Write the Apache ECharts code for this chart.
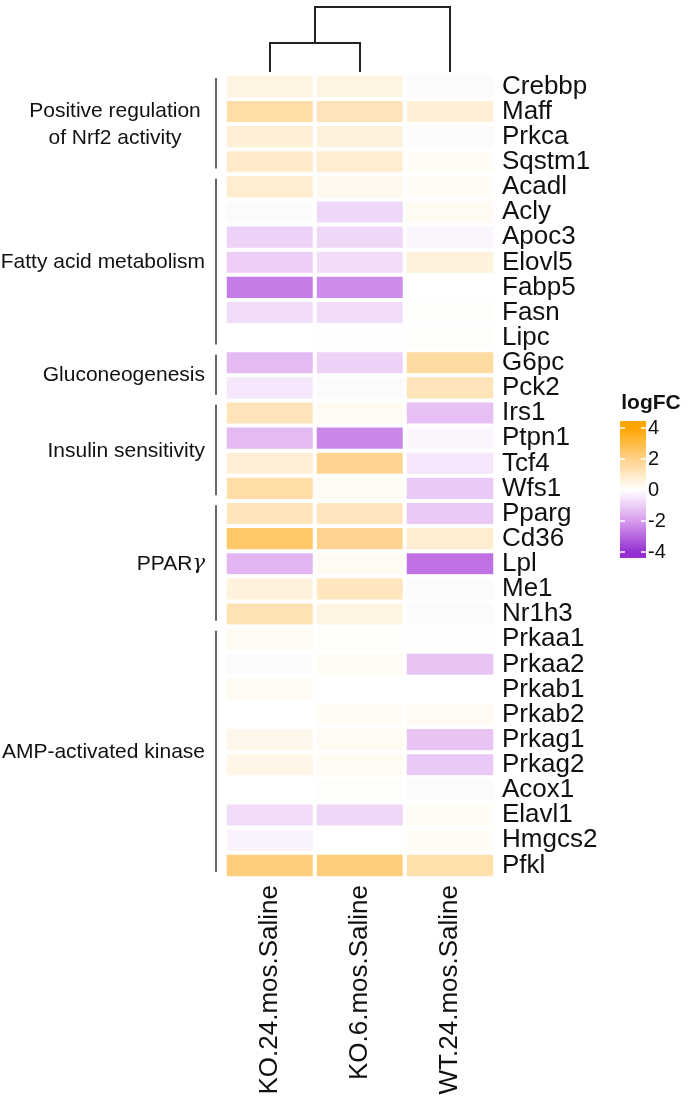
<!DOCTYPE html>
<html>
<head>
<meta charset="utf-8">
<script src="https://cdn.jsdelivr.net/npm/echarts@6/dist/echarts.min.js"></script>
<style>
  html, body { margin: 0; padding: 0; background: #fff; }
  #main { width: 688px; height: 1107px; }
</style>
</head>
<body>
<div id="main"></div>
<script>
// samples (columns) and genes (rows)
var samples = ['KO.24.mos.Saline', 'KO.6.mos.Saline', 'WT.24.mos.Saline'];
var genes = ['Crebbp', 'Maff', 'Prkca', 'Sqstm1', 'Acadl', 'Acly', 'Apoc3', 'Elovl5', 'Fabp5', 'Fasn', 'Lipc',
  'G6pc', 'Pck2', 'Irs1', 'Ptpn1', 'Tcf4', 'Wfs1', 'Pparg', 'Cd36', 'Lpl', 'Me1', 'Nr1h3',
  'Prkaa1', 'Prkaa2', 'Prkab1', 'Prkab2', 'Prkag1', 'Prkag2', 'Acox1', 'Elavl1', 'Hmgcs2', 'Pfkl'];

// logFC per sample, same order as genes
var ko24 = [0.5, 1.5, 0.7, 0.9, 0.8, -0.1, -0.9, -1.0, -2.6, -0.7, 0, -1.4, -0.5, 1.2, -1.4, 0.7, 1.5,
  1.2, 2.5, -1.5, 0.6, 1.3, 0.2, -0.1, 0.2, 0, 0.35, 0.4, 0, -0.7, -0.25, 2.2];
var ko6 = [0.5, 1.2, 0.6, 0.8, 0.3, -0.8, -0.8, -0.7, -2.3, -0.7, 0.05, -0.9, -0.1, 0.2, -2.4, 1.9, 0.2,
  1.1, 1.9, 0.2, 1.1, 0.5, 0.1, 0.15, 0, 0.15, 0.2, 0.2, 0.1, -0.8, 0, 2.2];
var wt24 = [-0.1, 0.7, -0.1, 0.15, 0.15, 0.2, -0.2, 0.6, 0, 0.1, 0.1, 1.6, 1.2, -1.3, -0.2, -0.5, -1.1,
  -1.1, 0.8, -2.8, -0.1, -0.1, -0.05, -1.2, 0, 0.2, -1.2, -1.1, -0.1, 0.15, 0.15, 1.4];

// gene groups: label, first row, last row
var groupNames = ['Positive regulation\nof Nrf2 activity', 'Fatty acid metabolism', 'Gluconeogenesis',
  'Insulin sensitivity', 'PPAR', 'AMP-activated kinase'];
var groupStart = [0, 4, 11, 13, 17, 22];
var groupEnd = [3, 10, 12, 16, 21, 31];

// column dendrogram: merges of leaves/nodes with heights
var mergeLeft = [0, 'n0'];
var mergeRight = [1, 2];
var mergeHeight = [1.0, 2.24];

// legend
var legendTicks = [4, 2, 0, -2, -4];

// colour ramp at -4, -2, 0, 2, 4
var rampColors = ['#9430d2', '#d89cee', '#ffffff', '#ffd28a', '#ffa500'];
var FONT = 'Liberation Sans, Arial, Helvetica, sans-serif';

var chart = echarts.init(document.getElementById('main'));

var cols = [ko24, ko6, wt24];
var heatData = [];
cols.forEach(function (arr, ci) {
  arr.forEach(function (v, ri) { heatData.push([ci, ri, v]); });
});

// dendrogram segments from merges
var nodeX = {}, nodeH = {};
samples.forEach(function (s, i) { nodeX[i] = i + 0.5; nodeH[i] = 0; });
var dendroLines = [];
mergeHeight.forEach(function (h, k) {
  var a = mergeLeft[k], b = mergeRight[k];
  dendroLines.push({ coords: [[nodeX[a], nodeH[a]], [nodeX[a], h], [nodeX[b], h], [nodeX[b], nodeH[b]]] });
  nodeX['n' + k] = (nodeX[a] + nodeX[b]) / 2;
  nodeH['n' + k] = h;
});

var option = {
  animation: false,
  textStyle: { fontFamily: FONT },
  grid: [
    { left: 225, width: 270, top: 74, height: 804 },
    { left: 225, width: 270, top: 7, height: 65 }
  ],
  xAxis: [{
    type: 'category',
    data: samples,
    gridIndex: 0,
    position: 'bottom',
    axisLine: { show: false },
    axisTick: { show: false },
    splitLine: { show: false },
    axisLabel: { interval: 0, rotate: 90, fontSize: 26, color: '#111', margin: 7, fontFamily: FONT }
  }, {
    type: 'value', gridIndex: 1, min: 0, max: 3, show: false
  }],
  yAxis: [{
    type: 'category',
    data: genes,
    gridIndex: 0,
    inverse: true,
    position: 'right',
    axisLine: { show: false },
    axisTick: { show: false },
    splitLine: { show: false },
    axisLabel: { interval: 0, fontSize: 26, color: '#111', margin: 7, fontFamily: FONT }
  }, {
    type: 'value', gridIndex: 1, min: 0, max: mergeHeight[mergeHeight.length - 1], show: false
  }],
  visualMap: {
    show: false,
    type: 'continuous',
    min: -4,
    max: 4,
    seriesIndex: 0,
    dimension: 2,
    inRange: { color: rampColors }
  },
  series: [{
    type: 'heatmap',
    xAxisIndex: 0,
    yAxisIndex: 0,
    data: heatData,
    itemStyle: { borderColor: '#ffffff', borderWidth: 4 },
    emphasis: { disabled: true }
  }, {
    type: 'lines',
    coordinateSystem: 'cartesian2d',
    xAxisIndex: 1,
    yAxisIndex: 1,
    polyline: true,
    silent: true,
    lineStyle: { color: '#222', width: 2, opacity: 1 },
    data: dendroLines
  }]
};
chart.setOption(option);

// row annotations and legend, placed from the heatmap's own axes
var p0 = chart.convertToPixel({ gridIndex: 0 }, [0, 0]);
var p1 = chart.convertToPixel({ gridIndex: 0 }, [0, 1]);
var pitch = p1[1] - p0[1];
var els = [];
groupNames.forEach(function (name, g) {
  var top = chart.convertToPixel({ gridIndex: 0 }, [0, groupStart[g]])[1] - pitch / 2;
  var bot = chart.convertToPixel({ gridIndex: 0 }, [0, groupEnd[g]])[1] + pitch / 2;
  els.push({
    type: 'line',
    shape: { x1: 216, y1: top + 4, x2: 216, y2: bot - 6 },
    style: { stroke: '#333', lineWidth: 1.5 }
  });
  var multi = name.indexOf('\n') >= 0;
  var style = {
    text: name, fontSize: 21, fontFamily: FONT, fill: '#111',
    align: multi ? 'center' : 'right', verticalAlign: 'middle', lineHeight: 27
  };
  if (name === 'PPAR') {
    style.text = '{n|PPAR}{g|γ}';
    style.rich = {
      n: { fontSize: 21, fontFamily: FONT, fill: '#111' },
      g: { fontSize: 21, fontFamily: 'DejaVu Serif, serif', fontStyle: 'italic', fill: '#111' }
    };
  }
  els.push({ type: 'text', x: multi ? 115 : 205, y: (top + bot) / 2, style: style });
});

// colour legend
var barTop = 421, barBot = 558, tickTop = 428, tickBot = 552, barX = 620, barW = 26;
var lmax = 4 + (tickTop - barTop) / ((tickBot - tickTop) / 8);
var lmin = -4 - (barBot - tickBot) / ((tickBot - tickTop) / 8);
var span = lmax - lmin;
var stops = [{ offset: 0, color: rampColors[4] }];
legendTicks.forEach(function (t, i) {
  stops.push({ offset: (lmax - t) / span, color: rampColors[4 - i] });
});
stops.push({ offset: 1, color: rampColors[0] });
els.push({
  type: 'rect',
  shape: { x: barX, y: barTop, width: barW, height: barBot - barTop },
  style: { fill: new echarts.graphic.LinearGradient(0, 0, 0, 1, stops) }
});
legendTicks.forEach(function (t) {
  var y = tickTop + (4 - t) * (tickBot - tickTop) / 8;
  els.push({ type: 'line', shape: { x1: barX, y1: y, x2: barX + 5, y2: y }, style: { stroke: '#fff', lineWidth: 1.5 } });
  els.push({ type: 'line', shape: { x1: barX + barW - 5, y1: y, x2: barX + barW, y2: y }, style: { stroke: '#fff', lineWidth: 1.5 } });
  els.push({
    type: 'text', x: barX + barW + 2, y: y,
    style: { text: String(t), fontSize: 20, fontFamily: FONT, fill: '#111', align: 'left', verticalAlign: 'middle' }
  });
});
els.push({
  type: 'text', x: 651, y: 403,
  style: { text: 'logFC', fontSize: 21, fontWeight: 'bold', fontFamily: FONT, fill: '#111', align: 'center', verticalAlign: 'middle' }
});
chart.setOption({ graphic: els });
</script>
</body>
</html>
